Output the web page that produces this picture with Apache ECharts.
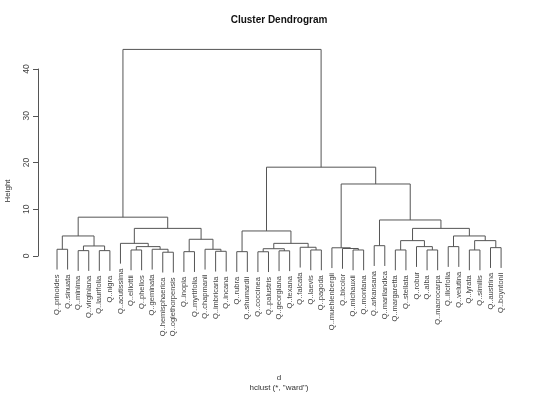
<!DOCTYPE html>
<html><head><meta charset="utf-8">
<script src="https://cdn.jsdelivr.net/npm/echarts@6/dist/echarts.min.js"></script>
<style>html,body{margin:0;padding:0;background:#fff}#c{width:540px;height:393px}</style>
</head><body><div id="c"></div>
<script>
// Leaves in plotting order
const leafLabels = ["Q..prinoides","Q..sinuata","Q..minima","Q..virginiana","Q..laurifolia","Q..nigra",
"Q..acutissima","Q..elliottii","Q..phellos","Q..geminata","Q..hemisphaerica","Q..oglethorpensis",
"Q..inopia","Q..myrtifolia","Q..chapmanii","Q..imbricaria","Q..incana","Q..rubra","Q..shumardii",
"Q..coccinea","Q..palustris","Q..georgiana","Q..texana","Q..falcata","Q..laevis","Q..pagoda",
"Q..muehlenbergii","Q..bicolor","Q..michauxii","Q..montana","Q..arkansana","Q..marilandica",
"Q..margaretta","Q..stellata","Q..robur","Q..alba","Q..macrocarpa","Q..ilicifolia","Q..velutina",
"Q..lyrata","Q..similis","Q..austrina","Q..boyntonii"];
// Merge table (R hclust style): negative = leaf position, positive = earlier merge row (1-based)
const mergePairs = [
[-11,-12],[-13,-14],[-18,-19],[-20,-21],[-16,-17],[-22,-23],[-3,-4],[-5,-6],[-8,-9],[-25,-26],
[-29,-30],[-33,-34],[-36,-37],[-40,-41],[-1,-2],[-10,1],[-15,5],[4,6],[-28,11],[-27,19],
[-42,-43],[-24,10],[9,16],[-35,13],[-38,-39],[7,8],[-31,-32],[-7,23],[18,22],[12,24],
[14,21],[2,17],[15,26],[25,31],[3,29],[28,32],[30,34],[27,37],[33,36],[20,38],
[35,40],[39,41]];
const mergeHeights = [0.8,0.92,0.92,0.9,1.0,1.1,1.14,1.14,1.28,1.28,
1.28,1.28,1.28,1.28,1.43,1.43,1.43,1.55,1.6,1.75,
1.78,1.86,2.0,2.0,2.0,2.14,2.2,2.7,2.7,3.28,
3.28,3.57,4.28,4.28,5.35,5.9,5.9,7.7,8.3,15.4,
19.0,44.2];
const yTicks = [0,10,20,30,40];
const hang = 0.1;

const FONT = "'Liberation Sans', Arial, Helvetica, sans-serif";
const hangDist = hang * (Math.max(...mergeHeights) - Math.min(...mergeHeights));
const mergeX = [];
const leafEnd = new Array(leafLabels.length).fill(0);
const treeData = mergePairs.map((pr, k) => {
  const h = mergeHeights[k];
  const info = pr.map(r => {
    if (r < 0) { leafEnd[-r - 1] = h - hangDist; return [-r, h - hangDist]; }
    return [mergeX[r - 1], mergeHeights[r - 1]];
  });
  mergeX[k] = (info[0][0] + info[1][0]) / 2;
  return [info[0][0], info[1][0], h, info[0][1], info[1][1]];
});
const labelData = leafLabels.map((n, i) => [i + 1, leafEnd[i]]);

const chart = echarts.init(document.getElementById('c'), null, {renderer: 'canvas'});
chart.setOption({
  animation: false,
  backgroundColor: '#fff',
  grid: [
    {left: 38, right: 22, top: 41, bottom: 109, containLabel: false},
    {left: 38, right: 22, top: 69, bottom: 137, containLabel: false}
  ],
  xAxis: [
    {type: 'value', gridIndex: 0, min: -0.8, max: 44.6, show: false},
    {type: 'value', gridIndex: 1, min: 0, max: 1, show: false}
  ],
  yAxis: [
    {type: 'value', gridIndex: 0, min: -6, max: 46, show: false},
    {type: 'value', gridIndex: 1, min: yTicks[0], max: yTicks[yTicks.length - 1], interval: 10,
     axisLine: {show: true, lineStyle: {color: '#555', width: 1}},
     axisTick: {show: true, length: 5, lineStyle: {color: '#555'}},
     splitLine: {show: false},
     axisLabel: {rotate: 90, fontSize: 8.5, color: '#444', fontFamily: FONT, margin: 7}}
  ],
  series: [
    {
      type: 'custom', xAxisIndex: 0, yAxisIndex: 0, data: treeData,
      encode: {x: [0, 1], y: [2, 3, 4]}, clip: false, silent: true,
      renderItem: function (params, api) {
        const a0 = api.coord([api.value(0), api.value(3)]);
        const a1 = api.coord([api.value(0), api.value(2)]);
        const b1 = api.coord([api.value(1), api.value(2)]);
        const b0 = api.coord([api.value(1), api.value(4)]);
        return {type: 'polyline', shape: {points: [a0, a1, b1, b0]},
                style: {stroke: '#555', lineWidth: 1, fill: null}};
      }
    },
    {
      type: 'custom', xAxisIndex: 0, yAxisIndex: 0, data: labelData,
      encode: {x: 0, y: 1}, clip: false, silent: true,
      renderItem: function (params, api) {
        const p = api.coord([api.value(0), api.value(1)]);
        return {type: 'text', x: p[0], y: p[1] + 5, rotation: Math.PI / 2,
                style: {text: leafLabels[params.dataIndex], align: 'right', verticalAlign: 'middle',
                        fontSize: 7.5, fontFamily: FONT, fill: '#444'}};
      }
    }
  ],
  graphic: [
    {type: 'text', x: 279, y: 20, style: {text: 'Cluster Dendrogram', align: 'center', verticalAlign: 'middle',
      fontSize: 10, fontWeight: 'bold', fontFamily: FONT, fill: '#111'}},
    {type: 'text', x: 8, y: 191, rotation: Math.PI / 2, style: {text: 'Height', align: 'center', verticalAlign: 'middle',
      fontSize: 8, fontFamily: FONT, fill: '#333'}},
    {type: 'text', x: 279, y: 378, style: {text: 'd', align: 'center', verticalAlign: 'middle',
      fontSize: 8, fontFamily: FONT, fill: '#333'}},
    {type: 'text', x: 279, y: 388, style: {text: 'hclust (*, "ward")', align: 'center', verticalAlign: 'middle',
      fontSize: 8, fontFamily: FONT, fill: '#333'}}
  ]
});
</script></body></html>
